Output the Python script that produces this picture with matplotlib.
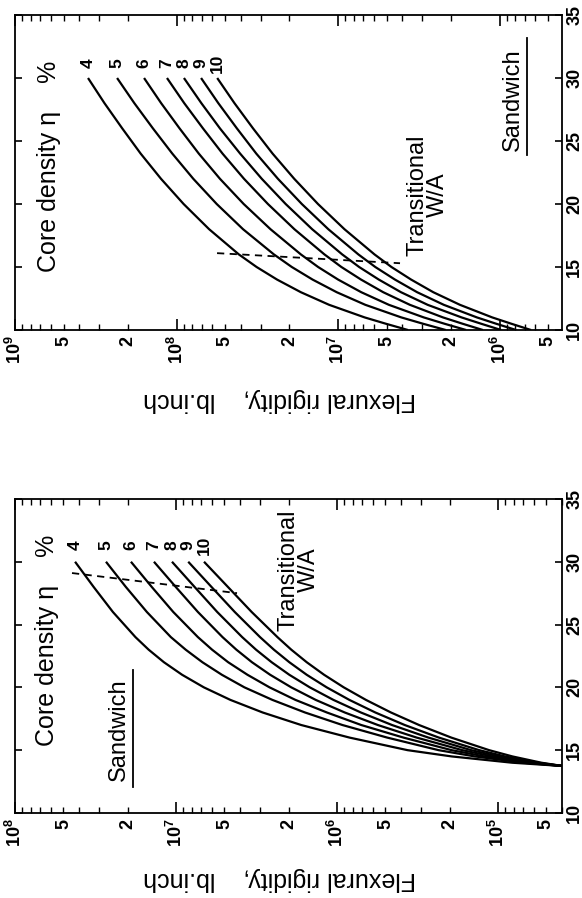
import matplotlib.pyplot as plt
import numpy as np
from matplotlib.ticker import LogLocator, FuncFormatter

plt.rcParams['font.family'] = ['Liberation Sans', 'DejaVu Sans']
plt.rcParams['mathtext.fontset'] = 'custom'
plt.rcParams['mathtext.rm'] = 'Liberation Sans'
plt.rcParams['mathtext.bf'] = 'Liberation Sans:bold'

densities = [4, 5, 6, 7, 8, 9, 10]

# upper chart: W/A against log10 of flexural rigidity (lb.inch), one list per core density
wa_upper = [10, 10.5, 11, 12, 13, 14, 15, 16, 18, 20, 22, 24, 26, 28, 30]
log_rigidity_upper = {
    4: [6.567, 6.704, 6.835, 7.055, 7.23, 7.377, 7.504, 7.614, 7.798, 7.956, 8.096, 8.222, 8.336, 8.446, 8.548],
    5: [6.333, 6.474, 6.608, 6.831, 7.008, 7.157, 7.286, 7.397, 7.588, 7.751, 7.896, 8.026, 8.146, 8.261, 8.368],
    6: [6.207, 6.341, 6.469, 6.685, 6.856, 6.999, 7.123, 7.23, 7.418, 7.584, 7.731, 7.862, 7.981, 8.095, 8.201],
    7: [6.103, 6.229, 6.35, 6.555, 6.72, 6.857, 6.979, 7.084, 7.27, 7.434, 7.582, 7.715, 7.836, 7.952, 8.059],
    8: [5.99, 6.114, 6.235, 6.445, 6.61, 6.747, 6.869, 6.974, 7.16, 7.324, 7.472, 7.606, 7.731, 7.846, 7.954],
    9: [5.897, 6.021, 6.14, 6.345, 6.51, 6.647, 6.769, 6.874, 7.06, 7.224, 7.372, 7.506, 7.626, 7.741, 7.848],
    10: [5.805, 5.927, 6.045, 6.245, 6.41, 6.547, 6.669, 6.774, 6.96, 7.124, 7.271, 7.405, 7.526, 7.641, 7.748],
}
transition_upper_log = [7.749, 6.616]
transition_upper_wa = [16.1, 15.3]

# lower chart
wa_lower = [13.74, 14, 14.5, 15, 16, 17, 18, 19, 20, 21, 22, 23, 24, 26, 28, 30]
log_rigidity_lower = {
    4: [4.60, 4.912, 5.287, 5.562, 5.922, 6.222, 6.462, 6.662, 6.827, 6.962, 7.075, 7.17, 7.252, 7.392, 7.512, 7.627],
    5: [4.60, 4.843, 5.144, 5.369, 5.688, 5.966, 6.199, 6.401, 6.575, 6.715, 6.836, 6.94, 7.032, 7.181, 7.312, 7.435],
    6: [4.60, 4.814, 5.083, 5.288, 5.587, 5.849, 6.063, 6.258, 6.419, 6.556, 6.676, 6.776, 6.864, 7.017, 7.151, 7.28],
    7: [4.60, 4.79, 5.034, 5.222, 5.505, 5.746, 5.952, 6.132, 6.284, 6.415, 6.528, 6.625, 6.711, 6.864, 7.002, 7.137],
    8: [4.60, 4.77, 4.993, 5.167, 5.432, 5.658, 5.852, 6.022, 6.169, 6.296, 6.406, 6.503, 6.589, 6.744, 6.885, 7.025],
    9: [4.60, 4.752, 4.956, 5.117, 5.367, 5.579, 5.762, 5.923, 6.064, 6.188, 6.296, 6.392, 6.478, 6.635, 6.78, 6.924],
    10: [4.60, 4.73, 4.91, 5.055, 5.29, 5.49, 5.665, 5.82, 5.958, 6.08, 6.188, 6.284, 6.37, 6.53, 6.678, 6.826],
}
transition_lower_log = [7.646, 6.621]
transition_lower_wa = [29.1, 27.5]

wa_ticks = [10, 15, 20, 25, 30, 35]


def major_label(v, pos):
    return r'$\mathbf{10^{%d}}$' % round(np.log10(v))


def minor_label(v, pos):
    m = round(v / 10 ** np.floor(np.log10(v) + 1e-9))
    return '%d' % m if m in (2, 5) else ''


def draw_panel(ax, wa, logs, dash_log, dash_wa, xlim, num_wa,
               core_xy, trans_xy, sand_xy, underline, xlabel_y):
    for n in densities:
        ax.plot(10 ** np.array(logs[n]), wa, color='k', lw=1.6,
                solid_capstyle='butt', solid_joinstyle='round')
        ax.text(10 ** logs[n][-1], num_wa, str(n), rotation=90, ha='center',
                va='center', fontsize=12.5, fontweight='bold')
    ax.plot(10 ** np.array(dash_log), dash_wa, color='k', lw=1.3,
            linestyle=(0, (4, 3)))

    ax.set_xscale('log')
    ax.set_xlim(*xlim)
    ax.set_ylim(10, 35)
    ax.xaxis.set_major_locator(LogLocator(base=10, numticks=20))
    ax.xaxis.set_minor_locator(LogLocator(base=10, subs=np.arange(2, 10), numticks=20))
    ax.xaxis.set_major_formatter(FuncFormatter(major_label))
    ax.xaxis.set_minor_formatter(FuncFormatter(minor_label))
    ax.tick_params(axis='x', which='both', direction='in', top=True,
                   bottom=True, labelrotation=90, labelsize=13, pad=4)
    ax.tick_params(axis='x', which='major', length=8, width=1.2)
    ax.tick_params(axis='x', which='minor', length=4, width=1.0)

    ax.set_yticks(wa_ticks)
    ax.tick_params(axis='y', direction='in', left=True, right=True,
                   labelleft=False, labelright=True, labelrotation=90,
                   length=5, width=1.2, labelsize=13, pad=3)
    for lab in ax.get_xticklabels(which='both') + ax.get_yticklabels():
        lab.set_fontweight('bold')
    for lab in ax.get_yticklabels():
        lab.set_va('center')
    for sp in ax.spines.values():
        sp.set_linewidth(1.3)

    ax.text(*core_xy, 'Core density \u03b7    %', rotation=90, ha='center',
            va='center', fontsize=18, transform=ax.transAxes)
    ax.text(*trans_xy, 'Transitional\nW/A', rotation=90, ha='center',
            va='center', multialignment='center', linespacing=0.9,
            fontsize=17, transform=ax.transAxes)
    ax.text(*sand_xy, 'Sandwich', rotation=90, ha='center', va='center',
            fontsize=17, transform=ax.transAxes)
    ax.plot([underline[0]] * 2, underline[1:], color='k', lw=1.3,
            transform=ax.transAxes, clip_on=False)
    ax.text(0.484, xlabel_y, 'Flexural rigidity,    lb.inch', rotation=180,
            ha='center', va='center', fontsize=18, transform=ax.transAxes)


fig = plt.figure(figsize=(5.82, 8.98), dpi=100)
ax_top = fig.add_axes([0.0258, 0.6325, 0.9399, 0.3508])
ax_bot = fig.add_axes([0.0258, 0.0947, 0.9399, 0.3497])

draw_panel(ax_top, wa_upper, log_rigidity_upper, transition_upper_log,
           transition_upper_wa, (1e9, 4.1e5), 31.2,
           (0.062, 0.521), (0.755, 0.429), (0.911, 0.730),
           (0.936, 0.556, 0.927), -0.222)
draw_panel(ax_bot, wa_lower, log_rigidity_lower, transition_lower_log,
           transition_lower_wa, (1e8, 4.0e4), 31.3,
           (0.058, 0.548), (0.519, 0.774), (0.190, 0.264),
           (0.216, 0.083, 0.455), -0.210)

fig.savefig('out.png', dpi=100)
